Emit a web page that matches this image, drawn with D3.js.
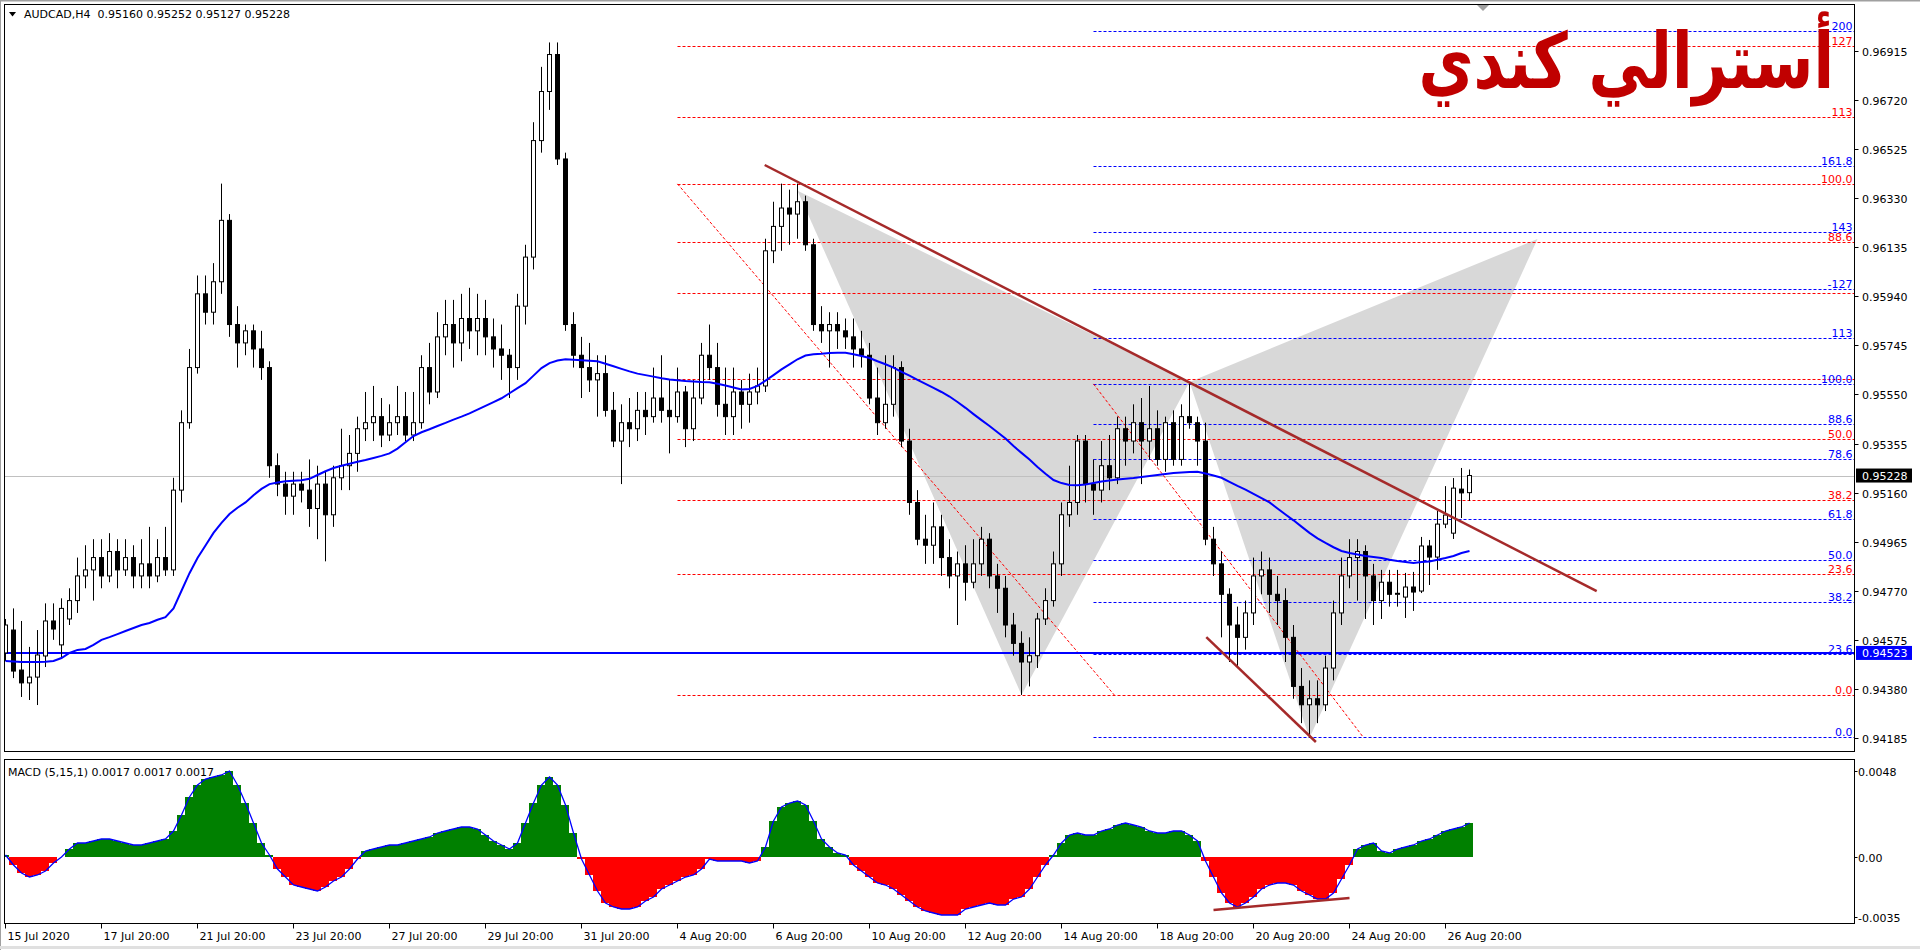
<!DOCTYPE html>
<html><head><meta charset="utf-8">
<script src="https://cdn.jsdelivr.net/npm/d3@7/dist/d3.min.js"></script>
<style>html,body{margin:0;padding:0;background:#fff;overflow:hidden}svg{display:block}</style>
</head><body>
<script>
// ---------------- DATA ----------------
const chartTitle = "AUDCAD,H4  0.95160 0.95252 0.95127 0.95228";
const macdTitle = "MACD (5,15,1) 0.0017 0.0017 0.0017";
const arabicTitle = "أسترالي كندي";

// H4 candles [open, high, low, close], bar 0 = 15 Jul 2020 20:00
const ohlc = [
// 0
[0.94523,0.94658,0.94491,0.94634],[0.94614,0.94700,0.94423,0.94451],[0.94455,0.94650,0.94348,0.94404],[0.94404,0.94547,0.94336,0.94427],[0.94427,0.94614,0.94316,0.94515],
[0.94511,0.94720,0.94467,0.94650],[0.94650,0.94720,0.94575,0.94618],[0.94555,0.94740,0.94503,0.94700],[0.94658,0.94780,0.94634,0.94731],[0.94731,0.94902,0.94682,0.94829],
// 10
[0.94829,0.94951,0.94780,0.94853],[0.94853,0.94975,0.94731,0.94902],[0.94902,0.94975,0.94780,0.94829],[0.94829,0.94999,0.94804,0.94926],[0.94926,0.94975,0.94780,0.94853],
[0.94853,0.94975,0.94829,0.94902],[0.94902,0.94951,0.94780,0.94829],[0.94829,0.94975,0.94780,0.94877],[0.94877,0.95024,0.94780,0.94829],[0.94829,0.94975,0.94804,0.94902],
// 20
[0.94902,0.95024,0.94829,0.94853],[0.94853,0.95219,0.94829,0.95170],[0.95170,0.95487,0.95121,0.95438],[0.95438,0.95731,0.95414,0.95657],[0.95657,0.96023,0.95633,0.95950],
[0.95950,0.96023,0.95828,0.95877],[0.95877,0.96072,0.95828,0.95998],[0.95998,0.96388,0.95950,0.96242],[0.96242,0.96267,0.95779,0.95828],[0.95828,0.95901,0.95657,0.95755],
// 30
[0.95755,0.95828,0.95706,0.95803],[0.95803,0.95828,0.95657,0.95731],[0.95731,0.95803,0.95608,0.95657],[0.95657,0.95682,0.95219,0.95267],[0.95267,0.95316,0.95146,0.95194],
[0.95194,0.95243,0.95072,0.95146],[0.95146,0.95243,0.95072,0.95194],[0.95194,0.95243,0.95121,0.95170],[0.95170,0.95292,0.95024,0.95097],[0.95097,0.95267,0.94975,0.95194],
// 40
[0.95194,0.95243,0.94887,0.95072],[0.95072,0.95267,0.95024,0.95219],[0.95219,0.95414,0.95170,0.95267],[0.95267,0.95389,0.95170,0.95316],[0.95316,0.95462,0.95243,0.95414],
[0.95414,0.95560,0.95365,0.95438],[0.95438,0.95584,0.95365,0.95462],[0.95462,0.95536,0.95341,0.95389],[0.95389,0.95511,0.95365,0.95438],[0.95438,0.95584,0.95389,0.95462],
// 50
[0.95462,0.95560,0.95365,0.95389],[0.95389,0.95560,0.95365,0.95438],[0.95438,0.95706,0.95414,0.95657],[0.95657,0.95755,0.95511,0.95560],[0.95560,0.95877,0.95536,0.95779],
[0.95779,0.95926,0.95706,0.95828],[0.95828,0.95926,0.95657,0.95755],[0.95755,0.95950,0.95682,0.95852],[0.95852,0.95974,0.95731,0.95803],[0.95803,0.95950,0.95706,0.95852],
// 60
[0.95852,0.95926,0.95706,0.95779],[0.95779,0.95852,0.95657,0.95731],[0.95731,0.95828,0.95608,0.95706],[0.95706,0.95731,0.95536,0.95657],[0.95657,0.95950,0.95608,0.95901],
[0.95901,0.96145,0.95828,0.96096],[0.96096,0.96632,0.96047,0.96559],[0.96559,0.96852,0.96511,0.96754],[0.96754,0.96949,0.96681,0.96901],[0.96901,0.96949,0.96462,0.96486],
// 70
[0.96486,0.96511,0.95803,0.95828],[0.95828,0.95877,0.95657,0.95706],[0.95706,0.95779,0.95536,0.95657],[0.95657,0.95755,0.95560,0.95608],[0.95608,0.95706,0.95462,0.95633],
[0.95633,0.95706,0.95462,0.95487],[0.95487,0.95560,0.95341,0.95365],[0.95365,0.95511,0.95194,0.95438],[0.95438,0.95536,0.95341,0.95414],[0.95414,0.95560,0.95365,0.95487],
// 80
[0.95487,0.95560,0.95389,0.95462],[0.95462,0.95657,0.95438,0.95536],[0.95536,0.95706,0.95438,0.95487],[0.95487,0.95608,0.95316,0.95462],[0.95462,0.95657,0.95438,0.95560],
[0.95560,0.95584,0.95341,0.95414],[0.95414,0.95608,0.95365,0.95536],[0.95536,0.95755,0.95511,0.95706],[0.95706,0.95828,0.95608,0.95657],[0.95657,0.95755,0.95462,0.95511],
// 90
[0.95511,0.95657,0.95389,0.95462],[0.95462,0.95657,0.95389,0.95560],[0.95560,0.95608,0.95414,0.95511],[0.95511,0.95633,0.95438,0.95560],[0.95560,0.95657,0.95511,0.95584],
[0.95584,0.96169,0.95560,0.96121],[0.96121,0.96316,0.96072,0.96218],[0.96218,0.96388,0.96121,0.96291],[0.96291,0.96364,0.96145,0.96267],[0.96267,0.96388,0.96169,0.96316],
// 100
[0.96316,0.96340,0.96121,0.96145],[0.96145,0.96169,0.95803,0.95828],[0.95828,0.95901,0.95755,0.95803],[0.95803,0.95877,0.95657,0.95828],[0.95828,0.95877,0.95731,0.95803],
[0.95803,0.95852,0.95731,0.95779],[0.95779,0.95852,0.95657,0.95731],[0.95731,0.95803,0.95657,0.95706],[0.95706,0.95755,0.95511,0.95536],[0.95536,0.95657,0.95389,0.95438],
// 110
[0.95438,0.95706,0.95414,0.95511],[0.95511,0.95706,0.95462,0.95657],[0.95657,0.95682,0.95341,0.95365],[0.95365,0.95414,0.95072,0.95121],[0.95121,0.95170,0.94951,0.94975],
[0.94975,0.95072,0.94877,0.94951],[0.94951,0.95121,0.94877,0.95024],[0.95024,0.95072,0.94829,0.94902],[0.94902,0.94975,0.94780,0.94829],[0.94829,0.94926,0.94634,0.94877],
// 120
[0.94877,0.94951,0.94731,0.94804],[0.94804,0.94975,0.94780,0.94877],[0.94877,0.95024,0.94829,0.94975],[0.94975,0.94999,0.94780,0.94829],[0.94829,0.94877,0.94682,0.94780],
[0.94780,0.94829,0.94585,0.94634],[0.94634,0.94682,0.94512,0.94561],[0.94561,0.94609,0.94356,0.94487],[0.94487,0.94585,0.94390,0.94512],[0.94512,0.94682,0.94463,0.94658],
// 130
[0.94658,0.94780,0.94634,0.94731],[0.94731,0.94926,0.94707,0.94877],[0.94877,0.95121,0.94829,0.95072],[0.95072,0.95267,0.95024,0.95121],[0.95121,0.95389,0.95072,0.95365],
[0.95365,0.95389,0.95121,0.95194],[0.95194,0.95292,0.95072,0.95170],[0.95170,0.95365,0.95121,0.95267],[0.95267,0.95389,0.95170,0.95219],[0.95219,0.95462,0.95194,0.95414],
// 140
[0.95414,0.95462,0.95267,0.95365],[0.95365,0.95511,0.95316,0.95438],[0.95438,0.95536,0.95194,0.95365],[0.95365,0.95584,0.95292,0.95414],[0.95414,0.95487,0.95267,0.95292],
[0.95292,0.95462,0.95243,0.95438],[0.95438,0.95487,0.95267,0.95292],[0.95292,0.95511,0.95267,0.95462],[0.95462,0.95599,0.95414,0.95438],[0.95438,0.95462,0.95267,0.95365],
// 150
[0.95365,0.95438,0.94951,0.94975],[0.94975,0.95024,0.94829,0.94877],[0.94877,0.94926,0.94585,0.94756],[0.94756,0.94780,0.94487,0.94634],[0.94634,0.94707,0.94463,0.94585],
[0.94585,0.94731,0.94536,0.94682],[0.94682,0.94902,0.94634,0.94829],[0.94829,0.94926,0.94756,0.94853],[0.94853,0.94902,0.94682,0.94756],[0.94756,0.94829,0.94634,0.94731],
// 160
[0.94731,0.94780,0.94487,0.94585],[0.94585,0.94634,0.94341,0.94390],[0.94390,0.94463,0.94244,0.94317],[0.94317,0.94414,0.94185,0.94341],[0.94341,0.94414,0.94244,0.94317],
[0.94317,0.94512,0.94292,0.94463],[0.94463,0.94731,0.94414,0.94682],[0.94682,0.94902,0.94634,0.94829],[0.94829,0.94975,0.94780,0.94902],[0.94902,0.94975,0.94731,0.94926],
// 170
[0.94926,0.94951,0.94658,0.94829],[0.94829,0.94877,0.94634,0.94731],[0.94731,0.94853,0.94658,0.94804],[0.94804,0.94853,0.94707,0.94756],[0.94756,0.94853,0.94707,0.94760],
[0.94745,0.94841,0.94662,0.94785],[0.94785,0.94845,0.94690,0.94765],[0.94769,0.94984,0.94761,0.94948],[0.94948,0.94972,0.94793,0.94904],[0.94904,0.95087,0.94853,0.95035],
// 180
[0.95035,0.95186,0.95019,0.95071],[0.94999,0.95218,0.94976,0.95178],[0.95174,0.95258,0.95059,0.95159],[0.95160,0.95252,0.95127,0.95228]
];

// moving average (blue line), one value per bar
const maValues = [
0.94491,0.94489,0.94487,0.94487,0.94487,0.94488,0.94491,0.94503,0.94523,0.94535,
0.94539,0.94555,0.94575,0.94586,0.94598,0.94610,0.94622,0.94634,0.94642,0.94655,
0.94665,0.94700,0.94770,0.94840,0.94900,0.94950,0.95000,0.95040,0.95075,0.95100,
0.95121,0.95150,0.95175,0.95194,0.95200,0.95205,0.95207,0.95209,0.95215,0.95230,
0.95245,0.95258,0.95267,0.95275,0.95283,0.95290,0.95298,0.95306,0.95316,0.95335,
0.95360,0.95385,0.95400,0.95412,0.95425,0.95437,0.95450,0.95462,0.95475,0.95490,
0.95505,0.95520,0.95535,0.95555,0.95575,0.95595,0.95625,0.95655,0.95675,0.95685,
0.95690,0.95688,0.95686,0.95684,0.95682,0.95672,0.95662,0.95652,0.95642,0.95633,
0.95627,0.95621,0.95615,0.95610,0.95607,0.95604,0.95602,0.95600,0.95599,0.95593,
0.95586,0.95578,0.95570,0.95572,0.95584,0.95605,0.95627,0.95650,0.95670,0.95690,
0.95705,0.95710,0.95712,0.95715,0.95716,0.95716,0.95710,0.95703,0.95695,0.95682,
0.95670,0.95657,0.95640,0.95625,0.95608,0.95592,0.95576,0.95560,0.95542,0.95520,
0.95497,0.95472,0.95448,0.95425,0.95400,0.95375,0.95345,0.95318,0.95292,0.95262,
0.95235,0.95210,0.95198,0.95190,0.95189,0.95192,0.95198,0.95204,0.95208,0.95212,
0.95215,0.95218,0.95222,0.95226,0.95230,0.95234,0.95238,0.95240,0.95242,0.95243,
0.95236,0.95228,0.95219,0.95203,0.95187,0.95172,0.95155,0.95138,0.95121,0.95097,
0.95073,0.95050,0.95025,0.95000,0.94978,0.94960,0.94943,0.94928,0.94920,0.94914,
0.94908,0.94904,0.94900,0.94893,0.94888,0.94884,0.94880,0.94884,0.94886,0.94893,
0.94900,0.94908,0.94920,0.94928
];

// MACD (5,15,1) main values per bar
const macdValues = [
0.0001,-0.0004,-0.0008,-0.0010,-0.0009,-0.0007,-0.0003,0.0000,0.0004,0.0007,
0.0007,0.0008,0.0009,0.0009,0.0008,0.0007,0.0006,0.0006,0.0007,0.0008,
0.0009,0.0013,0.0021,0.0030,0.0036,0.0039,0.0040,0.0041,0.0043,0.0036,
0.0027,0.0017,0.0007,0.0001,-0.0006,-0.0010,-0.0014,-0.0015,-0.0016,-0.0017,
-0.0015,-0.0012,-0.0010,-0.0006,-0.0001,0.0003,0.0004,0.0005,0.0006,0.0006,
0.0007,0.0008,0.0009,0.0010,0.0012,0.0013,0.0014,0.0015,0.0015,0.0014,
0.0011,0.0008,0.0006,0.0004,0.0007,0.0017,0.0027,0.0036,0.0040,0.0036,
0.0026,0.0012,-0.0001,-0.0009,-0.0017,-0.0023,-0.0025,-0.0026,-0.0026,-0.0025,
-0.0022,-0.0020,-0.0016,-0.0014,-0.0012,-0.0010,-0.0009,-0.0006,-0.0001,-0.0002,
-0.0002,-0.0002,-0.0002,-0.0003,-0.0002,0.0005,0.0018,0.0025,0.0027,0.0028,
0.0026,0.0018,0.0009,0.0005,0.0002,0.0001,-0.0004,-0.0007,-0.0010,-0.0013,
-0.0014,-0.0016,-0.0019,-0.0022,-0.0025,-0.0027,-0.0028,-0.0029,-0.0029,-0.0029,
-0.0026,-0.0025,-0.0024,-0.0023,-0.0024,-0.0024,-0.0021,-0.0020,-0.0016,-0.0010,
-0.0004,0.0001,0.0007,0.0011,0.0012,0.0011,0.0011,0.0013,0.0014,0.0016,
0.0017,0.0016,0.0015,0.0013,0.0012,0.0012,0.0013,0.0013,0.0011,0.0008,
-0.0002,-0.0010,-0.0018,-0.0023,-0.0025,-0.0023,-0.0020,-0.0016,-0.0014,-0.0013,
-0.0013,-0.0014,-0.0017,-0.0019,-0.0021,-0.0021,-0.0018,-0.0011,-0.0004,0.0004,
0.0006,0.0007,0.0003,0.0002,0.0004,0.0005,0.0006,0.0008,0.0009,0.0011,
0.0013,0.0014,0.0015,0.0017
];

const priceTicks = [0.96915,0.96720,0.96525,0.96330,0.96135,0.95940,0.95745,0.95550,0.95355,0.95160,0.94965,0.94770,0.94575,0.94380,0.94185];
const macdTicks = [0.0048, 0.0, -0.0035];
const macdTickLabels = ["0.0048", "0.00", "-0.0035"];
const timeTickBars = [0,12,24,36,48,60,72,84,96,108,120,132,144,156,168,180];
const timeTickLabels = ["15 Jul 2020","17 Jul 20:00","21 Jul 20:00","23 Jul 20:00","27 Jul 20:00","29 Jul 20:00","31 Jul 20:00","4 Aug 20:00","6 Aug 20:00","10 Aug 20:00","12 Aug 20:00","14 Aug 20:00","18 Aug 20:00","20 Aug 20:00","24 Aug 20:00","26 Aug 20:00"];

const bidPrice = 0.95228;
const hLinePrice = 0.94523;

// Fibonacci retracement #1 (red): anchor bars and prices
const fibRedAnchor = [84, 0.96387, 138.6, 0.94356];
const fibRedLevels = [0, 23.6, 38.2, 50, 61.8, 78.6, 88.6, 100, 113, 127];
const fibRedLabels = ["0.0","23.6","38.2","50.0","","","88.6","100.0","113","127"];
// Fibonacci retracement #2 (blue)
const fibBlueAnchor = [136, 0.95592, 169.7, 0.94189];
const fibBlueLevels = [0, 23.6, 38.2, 50, 61.8, 78.6, 88.6, 100, 113, 127, 143, 161.8, 200];
const fibBlueLabels = ["0.0","23.6","38.2","50.0","61.8","78.6","88.6","100.0","113","-127","143","161.8","200"];

// harmonic pattern points [bar, price]: X, A, B, C, D
const patternPoints = [[99, 0.96360],[127, 0.94356],[148, 0.95600],[163, 0.94185],[191.5, 0.96168]];

// trend lines [bar1, value1, bar2, value2]
const trendMain = [94.9, 0.96462, 198.9, 0.94769];
const trendLow = [150.1, 0.94586, 163.8, 0.94169];
const trendMacd = [151, -0.00265, 168, -0.00205];

// ---------------- DRAWING ----------------
const W = 1920, H = 950;
const L = 4.5, R = 1854.5, T = 4.5, MB = 751.5, ST = 759.5, SB = 923.5;
const FONT = "DejaVu Sans, Verdana, sans-serif";

const svg = d3.select("body").append("svg").attr("width", W).attr("height", H)
  .style("font-family", FONT);

svg.append("rect").attr("width", W).attr("height", H).attr("fill", "#fff");

const x = d3.scaleLinear().domain([0, 1]).range([5.5, 13.5]);
const y = d3.scaleLinear().domain([0.94185, 0.96915]).range([738, 51]);
const ym = d3.scaleLinear().domain([-0.0035, 0.0048]).range([927, 761]);

const defs = svg.append("defs");
defs.append("clipPath").attr("id", "cm").append("rect").attr("x", L).attr("y", T).attr("width", R - L).attr("height", MB - T);
defs.append("clipPath").attr("id", "cs").append("rect").attr("x", L).attr("y", ST).attr("width", R - L).attr("height", SB - ST);

const gm = svg.append("g").attr("clip-path", "url(#cm)");
const gs = svg.append("g").attr("clip-path", "url(#cs)");

// harmonic triangles (background)
const P = patternPoints.map(p => [x(p[0]), y(p[1])]);
gm.append("path").attr("d", "M" + [P[0], P[1], P[2]].join("L") + "Z").attr("fill", "#d8d8d8");
gm.append("path").attr("d", "M" + [P[2], P[3], P[4]].join("L") + "Z").attr("fill", "#d8d8d8");

// bid line
gm.append("line").attr("x1", L).attr("x2", R).attr("y1", Math.round(y(bidPrice)) + 0.5).attr("y2", Math.round(y(bidPrice)) + 0.5)
  .attr("stroke", "#c0c0c0").attr("stroke-width", 1);

// fib levels
function drawFib(anchor, levels, labels, color) {
  const p100 = anchor[1], p0 = anchor[3];
  const x0 = x(anchor[0]);
  levels.forEach((lv, k) => {
    const pr = p0 + (p100 - p0) * lv / 100;
    const yy = Math.round(y(pr)) + 0.5;
    gm.append("line").attr("x1", x0).attr("x2", R).attr("y1", yy).attr("y2", yy)
      .attr("stroke", color).attr("stroke-width", 1).attr("stroke-dasharray", "3,2");
    if (labels[k]) {
      svg.append("text").attr("x", R - 2).attr("y", yy - 2).attr("text-anchor", "end")
        .attr("font-size", 11).attr("fill", color).text(labels[k]);
    }
  });
  gm.append("line").attr("x1", x(anchor[0])).attr("y1", y(anchor[1])).attr("x2", x(anchor[2])).attr("y2", y(anchor[3]))
    .attr("stroke", "#ff0000").attr("stroke-width", 1).attr("stroke-dasharray", "3,2");
}
drawFib(fibRedAnchor, fibRedLevels, fibRedLabels, "#ff0000");
drawFib(fibBlueAnchor, fibBlueLevels, fibBlueLabels, "#0000ff");

// horizontal blue line
gm.append("line").attr("x1", L).attr("x2", R).attr("y1", y(hLinePrice)).attr("y2", y(hLinePrice))
  .attr("stroke", "#0000ff").attr("stroke-width", 2);

// candles
const cg = gm.append("g");
ohlc.forEach((d, i) => {
  const cx = x(i);
  const [o, h, l, c] = d;
  cg.append("line").attr("x1", cx).attr("x2", cx).attr("y1", y(h)).attr("y2", y(l)).attr("stroke", "#000").attr("stroke-width", 1);
  const top = y(Math.max(o, c)), bot = y(Math.min(o, c));
  const bull = c >= o;
  cg.append("rect").attr("x", cx - 2).attr("y", top).attr("width", 4).attr("height", Math.max(1, bot - top))
    .attr("fill", bull ? "#fff" : "#000").attr("stroke", "#000").attr("stroke-width", 1);
});

// moving average
gm.append("path").datum(maValues).attr("fill", "none").attr("stroke", "#0000ff").attr("stroke-width", 2)
  .attr("d", d3.line().x((d, i) => x(i)).y(d => y(d)));

// trend lines
gm.append("line").attr("x1", x(trendMain[0])).attr("y1", y(trendMain[1])).attr("x2", x(trendMain[2])).attr("y2", y(trendMain[3]))
  .attr("stroke", "#a52a2a").attr("stroke-width", 2.5);
gm.append("line").attr("x1", x(trendLow[0])).attr("y1", y(trendLow[1])).attr("x2", x(trendLow[2])).attr("y2", y(trendLow[3]))
  .attr("stroke", "#a52a2a").attr("stroke-width", 2.5);

// MACD histogram
const hg = gs.append("g").attr("shape-rendering", "crispEdges");
macdValues.forEach((v, i) => {
  const y0 = ym(0), y1 = ym(v);
  hg.append("rect").attr("x", Math.round(x(i) - 4.5)).attr("width", 8).attr("y", Math.min(y0, y1)).attr("height", Math.abs(y1 - y0))
    .attr("fill", v >= 0 ? "#008000" : "#ff0000");
});
gs.append("path").datum(macdValues).attr("fill", "none").attr("stroke", "#0000ff").attr("stroke-width", 1.3)
  .attr("d", d3.line().x((d, i) => x(i)).y(d => ym(d)));
gs.append("line").attr("x1", x(trendMacd[0])).attr("y1", ym(trendMacd[1])).attr("x2", x(trendMacd[2])).attr("y2", ym(trendMacd[3]))
  .attr("stroke", "#a52a2a").attr("stroke-width", 2.5);

// frames
svg.append("line").attr("x1", 0.5).attr("x2", 0.5).attr("y1", 0).attr("y2", H).attr("stroke", "#a0a0a0");
svg.append("line").attr("x1", 0).attr("x2", W).attr("y1", 0.5).attr("y2", 0.5).attr("stroke", "#a0a0a0").attr("stroke-width", 2);
svg.append("rect").attr("x", L).attr("y", T).attr("width", R - L).attr("height", MB - T).attr("fill", "none").attr("stroke", "#000");
svg.append("rect").attr("x", L).attr("y", ST).attr("width", R - L).attr("height", SB - ST).attr("fill", "none").attr("stroke", "#000");
svg.append("line").attr("x1", 0).attr("x2", W).attr("y1", H - 2.5).attr("y2", H - 2.5).attr("stroke", "#e0e0e0").attr("stroke-width", 3);

// price axis
priceTicks.forEach(p => {
  const yy = Math.round(y(p)) + 0.5;
  svg.append("line").attr("x1", R).attr("x2", R + 4).attr("y1", yy).attr("y2", yy).attr("stroke", "#000");
  svg.append("text").attr("x", 1862).attr("y", yy + 4).attr("font-size", 11).attr("fill", "#000").text(p.toFixed(5));
});
// price tags
function tag(p, bg) {
  const yy = y(p);
  svg.append("rect").attr("x", 1856).attr("y", yy - 7).attr("width", 56).attr("height", 14).attr("fill", bg);
  svg.append("text").attr("x", 1862).attr("y", yy + 4).attr("font-size", 11).attr("fill", "#fff").text(p.toFixed(5));
}
tag(bidPrice, "#000");
tag(hLinePrice, "#0000ff");

// MACD axis
macdTicks.forEach((v, k) => {
  let yy = ym(v);
  if (k === 0) yy = ST + 11;
  if (k === 2) yy = SB - 7;
  yy = Math.round(yy) + 0.5;
  svg.append("line").attr("x1", R).attr("x2", R + 3).attr("y1", yy).attr("y2", yy).attr("stroke", "#000");
  svg.append("text").attr("x", 1858).attr("y", yy + 4).attr("font-size", 11).attr("fill", "#000").text(macdTickLabels[k]);
});

// time axis
timeTickBars.forEach((b, k) => {
  const xx = Math.round(x(b)) - 0.5;
  svg.append("line").attr("x1", xx).attr("x2", xx).attr("y1", SB).attr("y2", SB + 5).attr("stroke", "#000");
  svg.append("text").attr("x", xx + 2).attr("y", 940).attr("font-size", 11).attr("fill", "#000").text(timeTickLabels[k]);
});

// titles
svg.append("path").attr("d", "M9,12 L16,12 L12.5,16.5 Z").attr("fill", "#000");
svg.append("text").attr("x", 24).attr("y", 18).attr("font-size", 11).attr("fill", "#000")
  .style("white-space", "pre").text(chartTitle);
svg.append("text").attr("x", 8).attr("y", 776).attr("font-size", 11).attr("fill", "#000").text(macdTitle);
svg.append("path").attr("d", "M1477,5 L1489,5 L1483,11 Z").attr("fill", "#a0a0a0");

svg.append("g").attr("transform", "translate(1834,88) scale(0.78,1)")
  .append("text").attr("x", 0).attr("y", 0).attr("text-anchor", "end")
  .attr("font-size", 77).attr("font-weight", "bold").attr("fill", "#c00000").text(arabicTitle);
</script>
</body></html>
